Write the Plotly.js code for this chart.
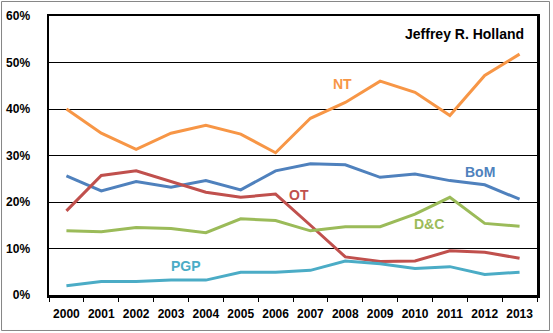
<!DOCTYPE html>
<html>
<head>
<meta charset="utf-8">
<script src="https://cdn.plot.ly/plotly-3.0.1.min.js"></script>
<style>html,body{margin:0;padding:0;background:#fff;}#chart{width:553px;height:333px;}</style>
</head>
<body>
<div id="chart"></div>
<script>
const years = ["2000","2001","2002","2003","2004","2005","2006","2007","2008","2009","2010","2011","2012","2013"];
const NT  = [40.0,34.8,31.3,34.8,36.5,34.6,30.6,38.0,41.4,46.0,43.6,38.6,47.2,51.8];
const BoM = [25.6,22.4,24.4,23.2,24.6,22.6,26.7,28.2,28.0,25.3,26.0,24.6,23.7,20.6];
const OT  = [18.1,25.7,26.7,24.4,22.1,21.0,21.7,15.0,8.2,7.2,7.3,9.5,9.2,7.9];
const DC  = [13.8,13.6,14.5,14.3,13.4,16.4,16.0,13.8,14.7,14.7,17.4,21.0,15.4,14.8];
const PGP = [2.0,2.9,2.9,3.2,3.2,4.9,4.9,5.3,7.3,6.7,5.7,6.1,4.4,4.9];
const yTicks = [0,10,20,30,40,50,60];
const yTickText = ["0%","10%","20%","30%","40%","50%","60%"];
const seriesNames = ["NT","BoM","OT","D&amp;C","PGP"];
const colors = ["#F79646","#4F81BD","#C0504D","#9BBB59","#4BACC6"];
const title = "Jeffrey R. Holland";

const data = [NT,BoM,OT,DC,PGP].map((v,i)=>({
  x: years, y: v, type:"scatter", mode:"lines", name: seriesNames[i],
  line:{color:colors[i], width:3}, hoverinfo:"skip"
}));

const fam = "Liberation Sans, Arial, sans-serif";
// label anchor: category index and y value
const labelPos = [
  {x:7.91, y:45.4},
  {x:11.87, y:26.5},
  {x:6.68, y:21.5},
  {x:10.41, y:15.3},
  {x:3.43, y:6.2}
];
const annotations = seriesNames.map((n,i)=>({
  x: labelPos[i].x, y: labelPos[i].y, xref:"x", yref:"y",
  text:"<b>"+n+"</b>", showarrow:false,
  font:{family:fam, size:14, color:colors[i]}
}));
annotations.push({
  x:1, y:1, xref:"paper", yref:"paper", xanchor:"right", yanchor:"top",
  xshift:-11, yshift:-8, text:"<b>"+title+"</b>", showarrow:false,
  font:{family:fam, size:14, color:"#000"}
});

const layout = {
  width:553, height:333,
  margin:{l:49, r:16, t:16, b:38, pad:0},
  paper_bgcolor:"#fff", plot_bgcolor:"#fff",
  showlegend:false,
  font:{family:fam, size:12, color:"#000"},
  xaxis:{
    type:"category", range:[-0.5,13.5], tickson:"boundaries", tickangle:0,
    ticks:"outside", ticklen:4, tickwidth:1, tickcolor:"#000",
    showgrid:false, showline:true, linecolor:"#000", linewidth:2.5, mirror:true,
    ticktext: years.map(t=>"<b>"+t+"</b>"), tickvals: years, tickmode:"array",
    ticklabelstandoff:6,
    tickfont:{family:fam, size:12, color:"#000"},
    fixedrange:true
  },
  yaxis:{
    range:[0,60], tickmode:"array", tickvals:yTicks, ticktext:yTickText.map(t=>"<b>"+t+"</b>"),
    showgrid:true, gridcolor:"#000", gridwidth:1, zeroline:false,
    showline:true, linecolor:"#000", linewidth:2.5, mirror:true,
    ticks:"", ticklabelstandoff:14,
    tickfont:{family:fam, size:12, color:"#000"},
    fixedrange:true
  },
  annotations: annotations,
  shapes:[{
    type:"rect", xref:"paper", yref:"paper",
    x0:-0.0973, x1:1.0256, y0:-0.1272, y1:1.052,
    line:{color:"#868686", width:1}, fillcolor:"rgba(0,0,0,0)", layer:"below"
  }]
};
Plotly.newPlot("chart", data, layout, {staticPlot:true, displayModeBar:false});
</script>
</body>
</html>
